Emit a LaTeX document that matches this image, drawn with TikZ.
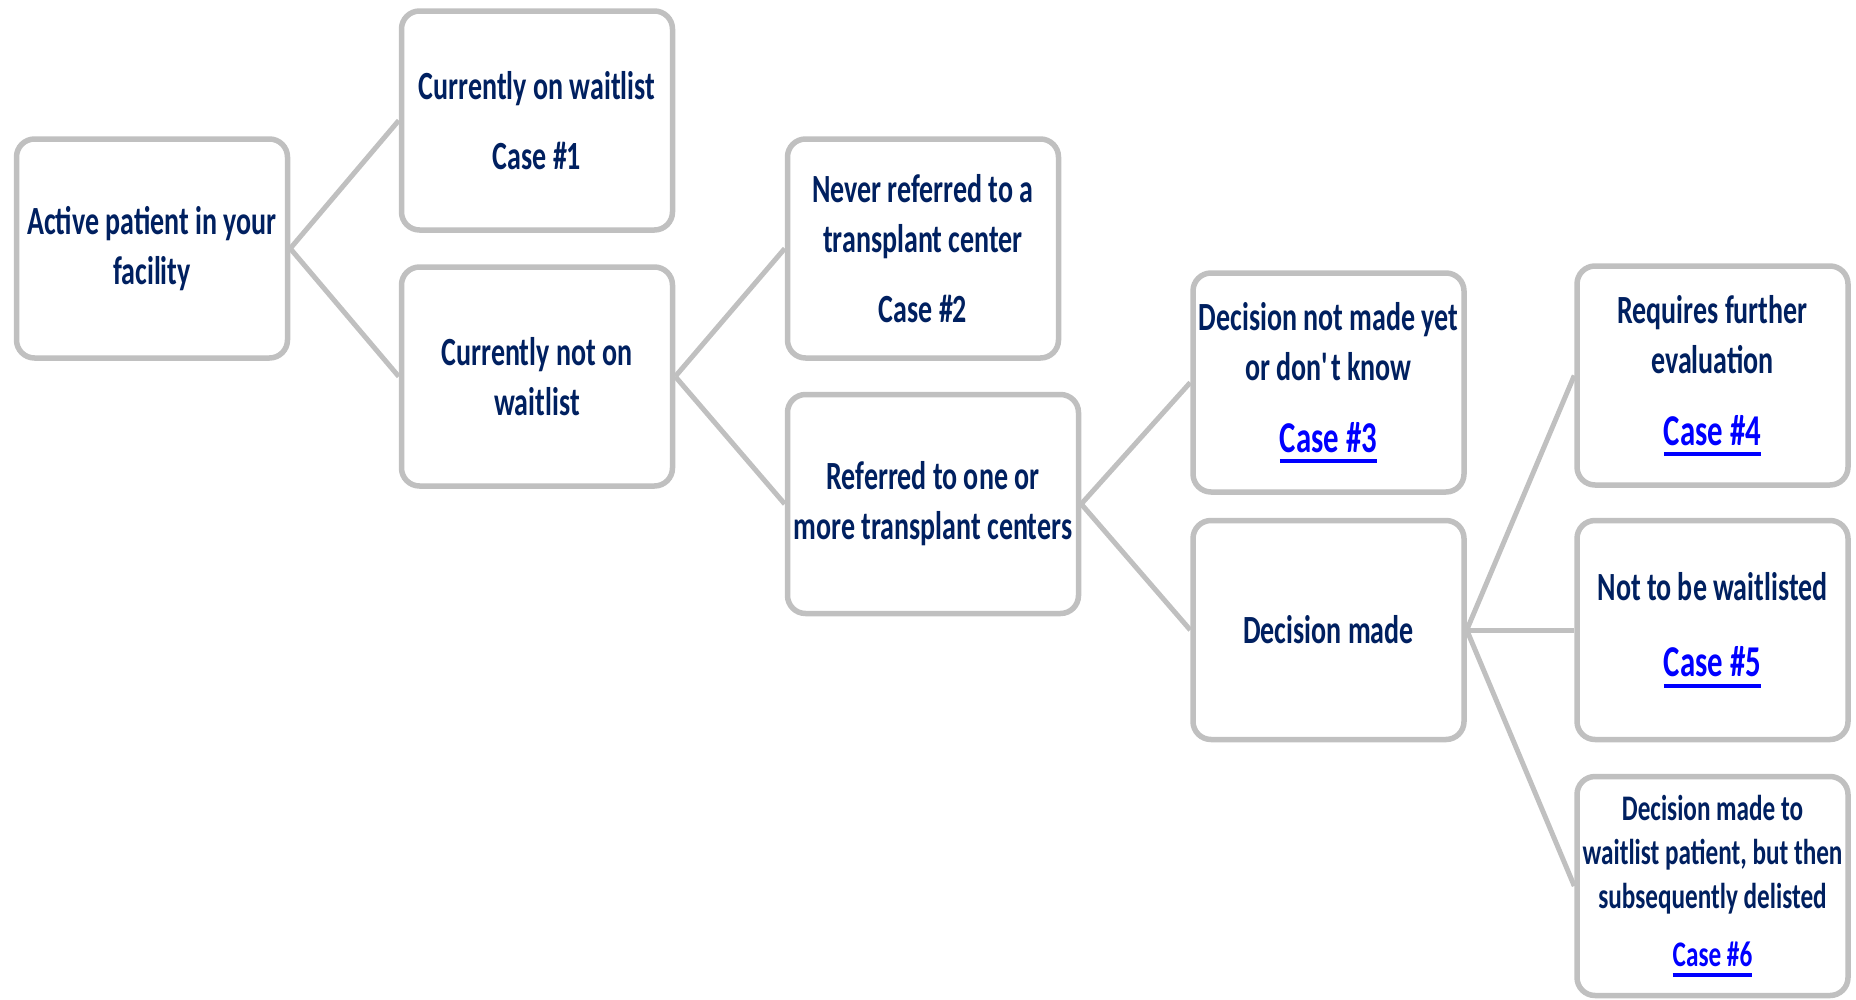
\documentclass[tikz,border=0pt]{standalone}
\usepackage{fontspec}
\setmainfont{Carlito}[FakeStretch=0.7]
\definecolor{navy}{RGB}{0,32,96}
\definecolor{linkblue}{RGB}{0,0,255}
\definecolor{boxgray}{RGB}{192,192,192}
\newcommand{\caselink}[1]{\textcolor{linkblue}{\setbox0=\hbox{#1}\rlap{\rule[-11pt]{\wd0}{4pt}}\box0}}

\begin{document}
\begin{tikzpicture}[x=1pt,y=-1pt,
    box/.style={draw=boxgray, line width=5.5pt, rounded corners=18pt, fill=white,
      minimum width=271pt, minimum height=219pt, align=center, text=navy,
      font=\bfseries\fontsize{40}{50}\selectfont},
    branch/.style={draw=boxgray, line width=5pt}]
    \useasboundingbox (0,0) rectangle (1856,999);

    \node[box] (P)  at (152,248.5)  {Active patient in your\\facility};
    \node[box] (W1) at (537,120.5)  {Currently on waitlist\\[20pt]Case \#1};
    \node[box] (W0) at (537,376.5)  {Currently not on\\waitlist};
    \node[box] (N)  at (923,248.5)  {Never referred to a\\transplant center\\[20pt]Case \#2};
    \node[box, minimum width=291pt] (R) at (933,504) {Referred to one or\\more transplant centers};
    \node[box] (U)  at (1328.5,382.5) {Decision not made yet\\or don\textquotesingle t know\\[22pt]{\fontsize{44}{50}\selectfont\caselink{Case \#3}}};
    \node[box] (D)  at (1328.5,630)   {Decision made};
    \node[box] (E)  at (1712.5,375.5) {Requires further\\evaluation\\[22pt]{\fontsize{44}{50}\selectfont\caselink{Case \#4}}};
    \node[box] (X)  at (1712.5,630)   {Not to be waitlisted\\[26pt]{\fontsize{44}{50}\selectfont\caselink{Case \#5}}};
    \node[box, font=\bfseries\fontsize{36}{44}\selectfont] (L) at (1712.5,886)
      {Decision made to\\waitlist patient, but then\\subsequently delisted\\[14pt]\caselink{Case \#6}};

    \draw [branch] (P.east)  -- (W1.west);
    \draw [branch] (P.east)  -- (W0.west);
    \draw [branch] (W0.east) -- (N.west);
    \draw [branch] (W0.east) -- (R.west);
    \draw [branch] (R.east)  -- (U.west);
    \draw [branch] (R.east)  -- (D.west);
    \draw [branch] (D.east)  -- (E.west);
    \draw [branch] (D.east)  -- (X.west);
    \draw [branch] (D.east)  -- (L.west);
\end{tikzpicture}
\end{document}
